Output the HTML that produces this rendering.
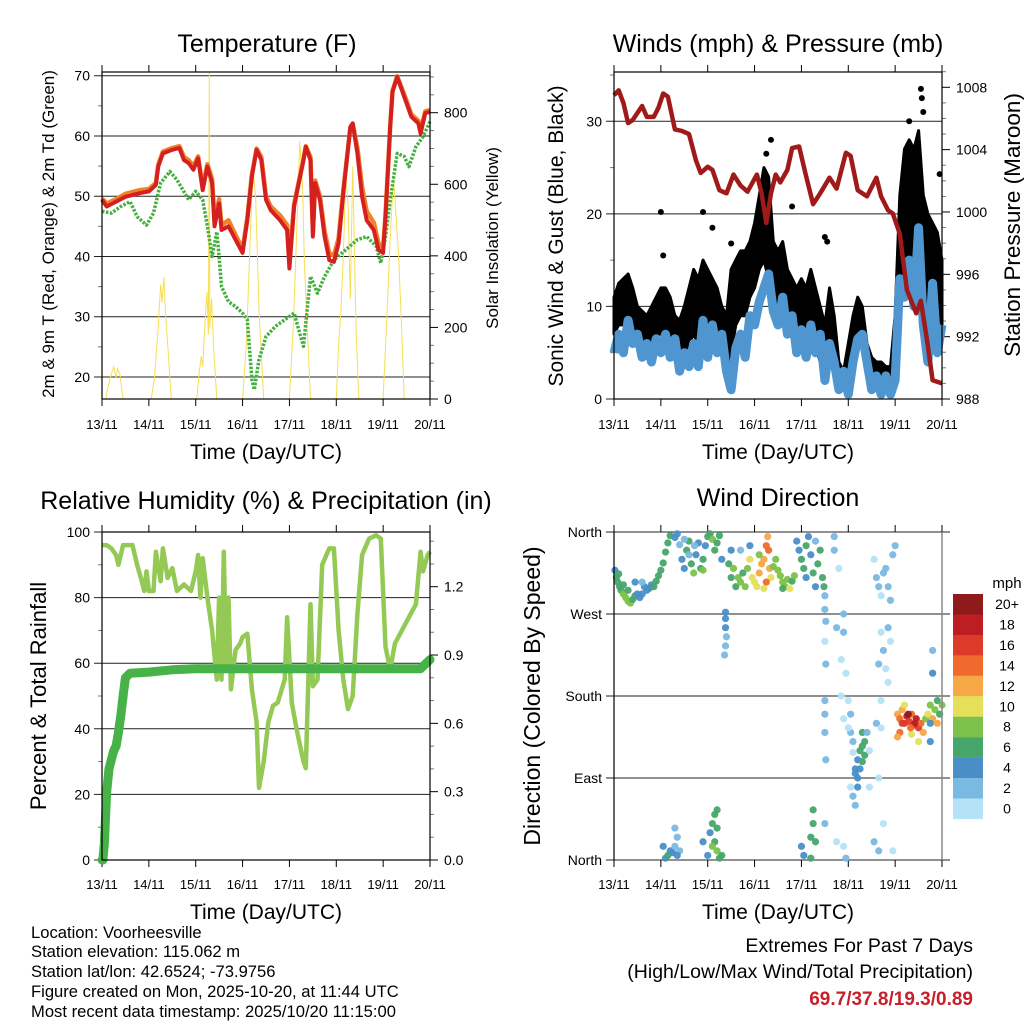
<!DOCTYPE html>
<html><head><meta charset="utf-8"><style>
html,body{margin:0;padding:0;background:#fff;}
svg{display:block;font-family:"Liberation Sans",sans-serif;}
</style></head><body>
<svg id="c" width="1024" height="1024" viewBox="0 0 1024 1024" xmlns="http://www.w3.org/2000/svg"></svg>
<script>
const dayLabels=['13/11','14/11','15/11','16/11','17/11','18/11','19/11','20/11'];
// Temperature
const tempT=[0,0.1,0.3,0.5,0.8,1.0,1.15,1.2,1.3,1.5,1.65,1.75,1.85,1.95,2.05,2.15,2.25,2.35,2.4,2.5,2.55,2.7,2.85,3.0,3.1,3.2,3.3,3.4,3.5,3.6,3.8,3.95,4.0,4.1,4.2,4.3,4.35,4.45,4.5,4.55,4.65,4.75,4.85,4.95,5.05,5.15,5.3,5.35,5.45,5.55,5.65,5.8,5.9,6.0,6.05,6.15,6.2,6.3,6.4,6.5,6.6,6.75,6.8,6.9,7.0];
const tempRed=[49.4,48.3,49.1,49.9,50.5,50.8,51.9,54.9,57.1,57.7,58,56,55.5,54.4,56.3,51,54.9,52.2,45,48.8,44.4,45,42.8,40.6,46,53.3,57.7,56,49.4,47.7,46,44.4,38,48.3,52.2,56,58.2,56,43.3,52.2,49.4,43.3,39.4,39.1,42.2,50.5,61.5,62.1,57.1,49.9,46,44.4,41.1,40.6,46.6,61.5,67.3,69.8,67.6,65.4,63.2,62.1,60.4,63.8,64];
const tempOrange=[49.6,48.8,49.5,50.4,51,51.2,52.2,55.2,57.4,58,58.3,56.5,56,55,56.6,51.5,55.3,52.8,46,49.5,45.2,46,43.6,41.2,46.4,53.6,57.9,56.5,50,48.3,46.8,45.2,39,48.7,52.4,56.2,58.3,56.5,44,52.6,50,44.2,40.5,40.2,43,51,61.3,62,58,51.5,47.5,45.6,42.2,41.4,46.9,61.6,67.5,69.9,67.9,65.8,63.6,62.5,61,64.1,64.3];
const tdT=[0,0.2,0.4,0.6,0.75,0.95,1.1,1.25,1.45,1.6,1.85,2.0,2.15,2.25,2.35,2.45,2.5,2.55,2.7,2.85,3.0,3.1,3.2,3.25,3.35,3.5,3.7,3.9,4.1,4.2,4.3,4.45,4.6,4.75,4.95,5.2,5.45,5.65,5.85,5.95,6.05,6.15,6.3,6.45,6.55,6.7,6.85,7.0];
const tdGreen=[47.5,47.2,48.3,49.1,46.6,45.2,47.2,52.2,54.1,52.7,49.4,50.8,49.4,45,40,44.1,40,35,32.5,31.7,30.6,29.5,19.6,17.9,22.9,26.7,28.4,29.5,30.6,27.8,25.1,36.7,33.9,36.7,39.4,41.1,42.8,43.3,41.7,38.9,43.3,49.4,57.1,56.6,54.9,58.2,59.9,62.4];
const solarT=[0,0.08,0.12,0.2,0.25,0.3,0.33,0.38,0.42,0.45,1.05,1.12,1.2,1.25,1.28,1.32,1.36,1.42,1.48,2.02,2.08,2.12,2.15,2.2,2.24,2.27,2.29,2.3,2.34,2.38,2.45,3.0,3.08,3.15,3.22,3.28,3.35,3.45,4.0,4.08,4.15,4.22,4.28,4.32,4.38,4.45,5.0,5.05,5.1,5.15,5.2,5.25,5.3,5.35,5.42,5.48,6.0,6.07,6.15,6.22,6.28,6.33,6.4,6.45,7.0];
const solarV=[0,0,30,70,90,60,85,70,30,0,0,60,200,320,270,340,230,120,0,0,80,120,90,220,300,180,914,200,280,150,0,0,150,400,650,560,250,0,0,200,450,720,600,380,200,0,0,150,250,400,620,550,280,650,200,0,0,200,450,620,500,400,180,0,0];
// Winds & pressure
const presT=[0,0.1,0.2,0.3,0.4,0.6,0.7,0.85,0.95,1.05,1.15,1.3,1.45,1.6,1.75,1.85,2.0,2.1,2.25,2.4,2.55,2.7,2.85,3.05,3.15,3.25,3.35,3.45,3.55,3.7,3.8,3.95,4.1,4.25,4.4,4.6,4.75,4.95,5.05,5.2,5.4,5.6,5.7,5.85,5.95,6.1,6.25,6.45,6.55,6.7,6.8,7.0];
const presV=[1007.5,1007.8,1007,1005.7,1005.9,1006.8,1006.1,1006.1,1006.7,1007.6,1007.4,1005.3,1005.2,1005,1003.3,1002.5,1002.9,1002.7,1001.4,1001.2,1002.4,1001.7,1001.3,1002.4,1001.2,999.3,1001.2,1002.4,1001.9,1002.7,1004.1,1004.2,1002.3,1000.5,1001.2,1002.2,1001.5,1003.8,1003.6,1001.4,1001,1002.2,1001,1000.1,999.9,998.6,995,993.5,994.3,991.4,989.2,989];
const windSpd=[5,7,5,8.5,6,7,4.5,6,4,6.5,5,7,4.5,6.5,3,5,3.5,6,3.5,8.5,4.5,8,5,7,3,1,5.5,7,4.5,9,8,10.5,12,13.5,9.5,8,11,7,9,5,7.5,4.5,8,5,7,2,6,4,1,3,0.5,4,6.5,7,4,1,2.5,0.5,2.5,0.5,2,13,11,15,10,18.5,8,4,12.5,5,8];
const gustLow=[7,8,8,9,8,7,6,5.5,6,7,7,7,6,5,4.5,5,6,7,6,7,7,6,6,5,3,5,8,9,9,11,12,14,15,13,11,10,10,8,7,6,8,7,6,6,4,3,4,3,1,1,2,5,6,6,3,2,1.5,1.5,1.5,1.5,4,14,13,15,12,14,10,8,12,9,8];
const gustHigh=[11,12.5,13,13.5,12,10,9.5,9,10,11,12,12,11,9,8.5,10,12,14,13,15,14,13,12,10,9,14,15,16,16,17,19,22,25,24,17,16,17,14,13,12,13,12,14,12,10,8,12,9,4,3,6,9,11,10,6,4.5,4,4,3.5,3.5,9,22,27,28,27,29,22,20,19,18,15];
const gustOutT=[1.0,1.05,1.9,2.1,3.35,3.25,3.8,4.5,6.3,6.55,6.57,6.6,6.95,2.5,4.55];
const gustOutV=[20.2,15.5,20.2,18.5,28,26.5,20.8,17.5,30,33.5,32.5,31,24.3,16.8,17];
// RH & rain
const rhT=[0,0.1,0.2,0.3,0.35,0.45,0.55,0.65,0.75,0.85,0.9,0.95,1.0,1.1,1.15,1.25,1.3,1.4,1.5,1.6,1.75,1.9,2.0,2.05,2.1,2.15,2.25,2.35,2.45,2.5,2.55,2.6,2.65,2.7,2.75,2.85,2.95,3.0,3.1,3.2,3.3,3.35,3.45,3.55,3.65,3.75,3.9,3.95,4.05,4.15,4.3,4.35,4.45,4.5,4.6,4.7,4.85,4.95,5.05,5.15,5.25,5.35,5.45,5.55,5.7,5.85,5.95,6.05,6.15,6.25,6.4,6.55,6.7,6.8,6.85,6.95,7.0];
const rhV=[96,96,95,93,90,96,96,96,90,85,82,88,82,82,94,85,95,86,89,82,84,82,88,93,80,92,80,70,55,80,55,94,58,80,52,64,66,68,69,52,42,22,30,42,47,48,55,74,48,40,30,28,78,53,55,90,95,95,70,55,46,50,75,93,98,99,98,65,58,66,70,74,78,94,88,93,94];
const rainT=[0,0.02,0.05,0.1,0.15,0.25,0.3,0.35,0.4,0.45,0.5,0.6,1.0,1.5,2.0,6.8,6.9,7.0];
const rainV=[0,0,0.07,0.3,0.4,0.48,0.5,0.56,0.63,0.72,0.8,0.82,0.825,0.835,0.84,0.84,0.86,0.88];
// Wind direction
const dirT=[0.02,0.05,0.08,0.12,0.15,0.2,0.25,0.3,0.35,0.4,0.45,0.1,0.3,0.5,0.55,0.6,0.65,0.7,0.75,0.8,0.85,0.9,0.95,1.0,1.05,1.1,1.15,1.2,0.6,0.45,0.2,
1.3,1.35,1.4,1.45,1.5,1.55,1.6,1.65,1.7,1.75,1.8,1.85,1.9,1.95,2.0,1.5,1.6,1.72,1.9,
2.05,2.1,2.15,2.2,2.25,2.3,2.38,2.38,2.4,2.38,2.36,2.38,
2.45,2.5,2.55,2.6,2.65,2.7,2.75,2.8,2.85,2.9,2.95,3.0,3.05,3.1,3.15,3.2,3.25,3.28,3.3,3.32,3.35,3.25,3.2,3.4,3.45,3.5,2.5,2.7,2.9,3.1,
3.55,3.6,3.65,3.7,3.75,3.8,3.85,3.6,
3.9,3.95,4.0,4.05,4.1,4.15,4.2,4.25,4.3,4.35,4.4,4.45,4.48,4.3,4.1,
4.5,4.5,4.52,4.5,4.52,4.5,4.5,4.5,4.52,4.5,4.7,4.7,4.8,4.75,4.9,4.9,4.85,4.95,4.85,4.9,4.75,4.9,4.95,
5.0,5.05,5.05,5.1,5.1,5.15,5.15,5.2,5.2,5.25,5.3,5.3,5.35,5.35,5.25,5.2,5.1,5.05,5.15,5.3,5.4,5.45,5.45,5.0,
5.55,5.6,5.65,5.7,5.75,5.8,5.85,5.9,5.95,6.0,5.7,5.75,5.8,5.85,5.7,5.65,5.85,5.9,5.6,5.7,5.55,5.65,5.95,5.75,5.65,
6.05,6.1,6.15,6.2,6.25,6.3,6.35,6.4,6.45,6.5,6.55,6.6,6.1,6.2,6.05,6.35,6.5,6.65,6.7,6.75,6.8,6.85,6.9,6.95,7.0,6.9,6.75,6.8,6.8,6.75,6.28,6.42,6.15,6.33,
1.05,1.1,1.15,1.2,1.25,1.3,1.35,1.4,1.3,1.35,1.9,2.0,2.05,2.1,2.15,2.15,2.2,2.2,2.25,2.1,2.3,2.2,4.0,4.05,4.2,4.25,4.25,4.3,4.2];
const dirDeg=[318,310,305,300,296,292,288,284,282,286,290,314,296,292,288,292,300,296,298,302,300,306,312,318,326,338,348,356,305,305,302,
354,358,346,330,320,340,350,325,315,335,348,320,330,345,355,352,335,345,318,
358,352,340,348,356,330,265,255,245,235,225,272,
325,310,320,300,310,305,315,300,320,330,310,305,300,315,325,330,345,355,340,320,310,305,298,322,330,318,340,340,345,335,
312,305,300,308,298,306,312,298,
350,340,330,320,345,355,335,315,300,325,340,310,300,350,310,
290,275,262,240,215,175,160,140,110,40,355,340,320,255,270,250,220,205,180,155,20,15,2,
175,160,140,130,118,100,95,110,90,120,125,108,130,115,100,80,70,80,60,140,140,120,80,145,
330,310,300,290,315,320,300,285,335,345,250,230,210,195,175,215,255,240,150,145,20,10,10,40,90,
160,155,165,150,158,152,160,148,155,145,150,140,140,170,135,138,130,155,160,170,155,165,150,160,170,175,150,205,230,130,160,150,150,145,
15,2,5,10,8,15,25,10,35,5,20,5,30,40,50,20,10,35,2,15,5,55,15,5,2,55,40,20,25];
const dirSpd=[5,6,7,6,7,9,8,9,8,7,6,6,6,5,4,5,5,4,4,5,6,6,6,7,6,6,7,6,3,5,6,
4,5,3,4,5,6,7,6,8,5,4,6,7,5,6,3,2,3,9,
7,8,6,7,6,5,4,4,3,3,3,4,
6,7,8,7,9,8,7,9,8,10,10,11,10,12,13,12,14,13,15,12,11,15,10,9,8,8,4,3,5,9,
8,8,9,8,10,7,8,7,
4,5,6,7,6,4,5,6,5,7,6,6,7,3,4,
3,2,2,1,3,3,2,2,3,3,3,2,1,3,3,2,1,1,1,1,1,1,2,
1,2,2,3,1,4,4,4,5,6,6,6,7,6,5,4,2,1,3,7,3,1,1,1,
1,2,2,1,2,3,2,3,2,3,1,3,1,1,1,2,2,1,2,1,2,3,1,1,1,
12,14,12,17,18,16,15,16,18,17,14,13,15,11,13,10,11,8,10,9,12,8,13,7,9,6,5,4,3,4,20,19,16,15,
4,4,6,5,4,3,3,3,3,4,4,5,5,6,7,7,8,6,6,8,6,7,4,4,6,7,6,6,7];
const spdColors=['#b5e2f6','#7ab9e2','#4a8ec8','#47a66c','#7cc24a','#e5df5a','#f5a845','#ef6a2c','#dd3a2a','#bd1e24','#8f1a1c'];
const legendLabels=['20+','18','16','14','12','10','8','6','4','2','0'];

const NS='http://www.w3.org/2000/svg';
const svg=document.getElementById('c');
function mk(tag,attrs,parent){const e=document.createElementNS(NS,tag);for(const k in attrs)e.setAttribute(k,attrs[k]);(parent||svg).appendChild(e);return e;}
function txt(s,x,y,size,anchor,parent,extra){const e=mk('text',{x:x,y:y,'font-size':size,'text-anchor':anchor||'middle',fill:'#000'},parent);if(extra)for(const k in extra)e.setAttribute(k,extra[k]);e.textContent=s;return e;}
function lin(d0,d1,r0,r1){return v=>r0+(v-d0)*(r1-r0)/(d1-d0);}
function pathFrom(xs,ys,fx,fy){let d='';for(let i=0;i<xs.length;i++){d+=(i?'L':'M')+fx(xs[i]).toFixed(1)+','+fy(ys[i]).toFixed(1);}return d;}

const Y0=72,Y1=399,B0=532,B1=860;
function xAxis(g,x0,x1,yb,yt,labY,titleY){
  const fx=lin(0,7,x0,x1);
  for(let i=0;i<8;i++){
    const X=fx(i);
    mk('line',{x1:X,y1:yb,x2:X,y2:yb+7,stroke:'#000','stroke-width':1},g);
    mk('line',{x1:X,y1:yt,x2:X,y2:yt-7,stroke:'#000','stroke-width':1},g);
    const t=txt(dayLabels[i],X,labY,13,'middle',g);
    
    
  }
  const tt=txt('Time (Day/UTC)',(x0+x1)/2,titleY,21,'middle',g);
  
  
  return fx;
}
function leftTicks(g,x0,x1,fy,vals,labels,minors,grid){
  vals.forEach((v,i)=>{const Y=fy(v);
    if(grid)mk('line',{x1:x0-8,y1:Y,x2:x1,y2:Y,stroke:'#222','stroke-width':1},g);
    else mk('line',{x1:x0-8,y1:Y,x2:x0,y2:Y,stroke:'#000'},g);
    const t=txt(labels[i],x0-12,Y+5,14,'end',g);
    
    });
  (minors||[]).forEach(v=>{const Y=fy(v);mk('line',{x1:x0-4,y1:Y,x2:x0,y2:Y,stroke:'#777'},g);});
}
function rightTicks(g,x1,fy,vals,labels,minors){
  vals.forEach((v,i)=>{const Y=fy(v);mk('line',{x1:x1,y1:Y,x2:x1+8,y2:Y,stroke:'#000'},g);
    const t=txt(labels[i],x1+14,Y+5,14,'start',g);
    
    });
  (minors||[]).forEach(v=>{const Y=fy(v);mk('line',{x1:x1,y1:Y,x2:x1+4,y2:Y,stroke:'#777'},g);});
}
function box(g,x0,x1,y0,y1){mk('rect',{x:x0,y:y0,width:x1-x0,height:y1-y0,fill:'none',stroke:'#000','stroke-width':1.2},g);}
function rtitle(s,x,y,size,g,rot){const t=txt(s,0,0,size,'middle',g,{transform:'translate('+x+','+y+') rotate('+rot+')'});return t;}

// ===== Temperature panel =====
(function(){
const g=mk('g',{});


const x0=102,x1=430;
const fy=lin(20,70,377,75.7), fs=lin(0,800,399,112.7);
const t=txt('Temperature (F)',267,52,25,'middle',g);


leftTicks(g,x0,x1,fy,[20,30,40,50,60,70],['20','30','40','50','60','70'],[25,35,45,55,65],true);
rightTicks(g,x1,fs,[0,200,400,600,800],['0','200','400','600','800'],[50,100,150,250,300,350,450,500,550,650,700,750,850,900]);
const fx=xAxis(g,x0,x1,Y1,Y0,429,459);
const sp=mk('path',{d:pathFrom(solarT,solarV,fx,fs),fill:'none',stroke:'#f6df55','stroke-width':1},g);


const gp=mk('path',{d:pathFrom(tdT,tdGreen,fx,fy),fill:'none',stroke:'#45b040','stroke-width':3.5,'stroke-dasharray':'2.5 1.5','stroke-linejoin':'round'},g);


const op=mk('path',{d:pathFrom(tempT,tempOrange,fx,fy),fill:'none',stroke:'#f0822a','stroke-width':4.5,'stroke-linejoin':'round'},g);


const rp=mk('path',{d:pathFrom(tempT,tempRed,fx,fy),fill:'none',stroke:'#d42020','stroke-width':4,'stroke-linejoin':'round'},g);


box(g,x0,x1,Y0,Y1);
const a=rtitle('2m & 9m T (Red, Orange) & 2m Td (Green)',54,234,17,g,-90);


const b=rtitle('Solar Insolation (Yellow)',498,238,17,g,-90);


})();

// ===== Winds panel =====
(function(){
const g=mk('g',{});


const x0=614,x1=942;
const fy=lin(0,30,399,121.3), fp=lin(988,1008,399,87.3);
const t=txt('Winds (mph) & Pressure (mb)',778,52,25,'middle',g);


leftTicks(g,x0,x1,fy,[0,10,20,30],['0','10','20','30'],[5,15,25,35],true);
rightTicks(g,x1,fp,[988,992,996,1000,1004,1008],['988','992','996','1000','1004','1008'],[989,990,991,993,994,995,997,998,999,1001,1002,1003,1005,1006,1007,1009]);
const fx=xAxis(g,x0,x1,Y1,Y0,429,459);
const n=gustLow.length;
let d='';
for(let i=0;i<n;i++)d+=(i?'L':'M')+fx(i*0.1).toFixed(1)+','+fy(gustHigh[i]).toFixed(1);
for(let i=n-1;i>=0;i--)d+='L'+fx(i*0.1).toFixed(1)+','+fy(gustLow[i]).toFixed(1);
const band=mk('path',{d:d+'Z',fill:'#000',stroke:'#000','stroke-width':3,'stroke-linejoin':'round'},g);


gustOutT.forEach((tt,i)=>{const c=mk('circle',{cx:fx(tt),cy:fy(gustOutV[i]),r:3,fill:'#000'},g);

});
const wts=windSpd.map((v,i)=>i*0.1);
const wp=mk('path',{d:pathFrom(wts,windSpd,fx,fy),fill:'none',stroke:'#4f96d0','stroke-width':9,'stroke-linejoin':'round'},g);


const pp=mk('path',{d:pathFrom(presT,presV,fx,fp),fill:'none',stroke:'#a01a1a','stroke-width':4.5,'stroke-linejoin':'round'},g);


box(g,x0,x1,Y0,Y1);
const a=rtitle('Sonic Wind & Gust (Blue, Black)',563,236,21,g,-90);


const b=rtitle('Station Pressure (Maroon)',1020,225,22.5,g,-90);


})();

// ===== RH panel =====
(function(){
const g=mk('g',{});


const x0=102,x1=430;
const fy=lin(0,100,B1,B0), fr=lin(0,1.2,B1,586.7);
const t=txt('Relative Humidity (%) & Precipitation (in)',266,509,25,'middle',g);


leftTicks(g,x0,x1,fy,[0,20,40,60,80,100],['0','20','40','60','80','100'],[10,30,50,70,90],true);
rightTicks(g,x1,fr,[0,0.3,0.6,0.9,1.2],['0.0','0.3','0.6','0.9','1.2'],[0.1,0.2,0.4,0.5,0.7,0.8,1.0,1.1,1.3,1.4]);
const fx=xAxis(g,x0,x1,B1,B0,889,919);
const hp=mk('path',{d:pathFrom(rhT,rhV,fx,fy),fill:'none',stroke:'#93c954','stroke-width':4.5,'stroke-linejoin':'round'},g);


const rp=mk('path',{d:pathFrom(rainT,rainV,fx,fr),fill:'none',stroke:'#46b247','stroke-width':9,'stroke-linejoin':'round','stroke-linecap':'round'},g);


box(g,x0,x1,B0,B1);
const a=rtitle('Percent & Total Rainfall',46,696,22,g,-90);


})();

// ===== Wind direction panel =====
(function(){
const g=mk('g',{});


const x0=614,x1=942;
const fy=lin(0,360,B1,B0);
const t=txt('Wind Direction',778,506,25,'middle',g);


leftTicks(g,x0,x1+8,fy,[0,90,180,270,360],['North','East','South','West','North'],[],true);
const fx=xAxis(g,x0,x1,B1,B0,889,919);
dirT.forEach((tt,i)=>{
  const bin=Math.min(10,Math.floor(dirSpd[i]/2));
  const c=mk('circle',{cx:fx(tt),cy:fy(dirDeg[i]),r:3.6,fill:spdColors[bin],'fill-opacity':0.95},g);
  
  
});
mk('line',{x1:x0,y1:B0,x2:x0,y2:B1,stroke:'#000','stroke-width':1.2},g);
mk('line',{x1:x1,y1:B0,x2:x1,y2:B1,stroke:'#888','stroke-width':1.5},g);
const a=rtitle('Direction (Colored By Speed)',540,696,23,g,-90);


const lg=mk('g',{},g);


const lt=txt('mph',1007,588,15,'middle',lg);


legendLabels.forEach((l,i)=>{
  const r=mk('rect',{x:953,y:594+i*20.45,width:30,height:20.6,fill:spdColors[10-i]},lg);
  
  
  const tx=txt(l,1007,609+i*20.45,14,'middle',lg);
  
  
});
})();

// ===== Footer =====
const info=['Location: Voorheesville','Station elevation: 115.062 m','Station lat/lon: 42.6524; -73.9756','Figure created on Mon, 2025-10-20, at 11:44 UTC','Most recent data timestamp: 2025/10/20 11:15:00'];
const infoY=[938,957,977,997,1017];
info.forEach((s,i)=>{const t=txt(s,31,infoY[i],16.6,'start');

});
const e1=txt('Extremes For Past 7 Days',973,952,19.5,'end');


const e2=txt('(High/Low/Max Wind/Total Precipitation)',973,978,19.5,'end');


const e3=txt('69.7/37.8/19.3/0.89',973,1005,19,'end',null,{'font-weight':'bold',fill:'#c8202a'});


</script>
</body></html>
